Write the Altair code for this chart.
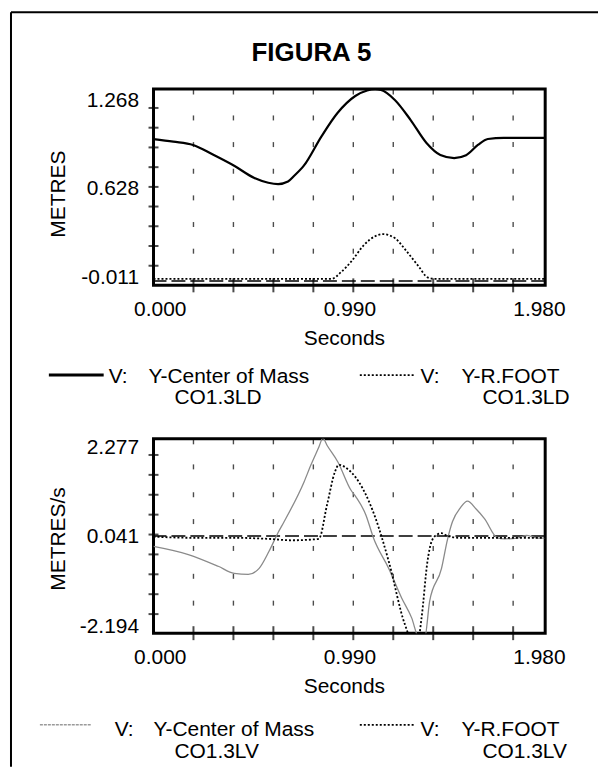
import altair as alt
import pandas as pd

FONT = "Liberation Sans"

# ---------------- data ----------------
# top panel: displacement (METRES)
t_com_pos = [0.00, 0.10, 0.20, 0.30, 0.41, 0.51, 0.58, 0.63, 0.68, 0.71, 0.76, 0.85, 0.93,
             1.02, 1.08, 1.12, 1.15, 1.22, 1.30, 1.38, 1.45, 1.52, 1.58, 1.64, 1.69, 1.77, 1.98]
com_pos = [1.016, 0.995, 0.968, 0.890, 0.797, 0.700, 0.662, 0.651, 0.672, 0.716, 0.800, 1.040, 1.227,
           1.365, 1.410, 1.420, 1.414, 1.333, 1.170, 0.984, 0.887, 0.862, 0.885, 0.968, 1.016, 1.025, 1.025]

t_foot_pos = [0.00, 0.90, 0.95, 1.00, 1.065, 1.12, 1.16, 1.22, 1.28, 1.34, 1.385, 1.42, 1.98]
foot_pos = [-0.117, -0.117, -0.060, 0.024, 0.159, 0.228, 0.245, 0.213, 0.105, -0.016, -0.105, -0.117, -0.117]

# bottom panel: velocity (METRES/s)
t_com_vel = [0.000, 0.176, 0.327, 0.408, 0.479, 0.534, 0.584, 0.630, 0.660, 0.761, 0.796, 0.836,
             0.856, 0.877, 0.932, 0.997, 1.023, 1.073, 1.113, 1.189, 1.255, 1.305, 1.340, 1.370,
             1.396, 1.456, 1.486, 1.511, 1.552, 1.587, 1.632, 1.673, 1.738, 1.773, 1.839, 1.884,
             1.940, 1.980]
com_vel = [-0.29, -0.52, -0.85, -1.05, -1.08, -0.91, -0.43, 0.10, 0.40, 1.52, 2.00, 2.50,
           2.75, 2.55, 2.08, 1.30, 1.10, 0.60, -0.07, -0.91, -1.75, -2.30, -2.85, -2.90,
           -1.83, -0.91, -0.10, 0.40, 0.80, 0.98, 0.75, 0.49, -0.05, -0.08, -0.06, 0.02,
           -0.06, -0.06]

t_foot_vel = [0.00, 0.20, 0.40, 0.58, 0.70, 0.80, 0.836, 0.877, 0.917, 0.937, 0.982, 1.058,
              1.123, 1.189, 1.270, 1.305, 1.340, 1.355, 1.385, 1.406, 1.436, 1.456, 1.486,
              1.55, 1.98]
foot_vel = [-0.02, -0.05, -0.05, -0.08, -0.12, -0.10, -0.08, 0.87, 1.80, 2.00, 1.88, 1.33,
            0.49, -0.71, -2.47, -2.90, -2.85, -2.30, -0.71, -0.15, 0.05, 0.08, 0.00,
            -0.05, -0.05]

ref_top = [-0.135]
ref_bottom = [0.0]

# axes / grid
x_domain = [0.0, 1.98]
x_labels = [0.0, 0.99, 1.98]
x_cols = [0.202, 0.404, 0.606, 0.808, 1.010, 1.212, 1.414, 1.616, 1.818]

top_domain = [-0.170, 1.4215]
top_labels = [-0.011, 0.628, 1.268]
top_ticks = [-0.011, 0.149, 0.309, 0.469, 0.628, 0.788, 0.948, 1.108, 1.268]
top_rows = [1.187, 0.971, 0.755, 0.539, 0.323, 0.107]

bot_domain = [-2.73, 2.73]
bot_labels = [-2.194, 0.041, 2.277]
bot_ticks = [-2.194, -1.635, -1.076, -0.517, 0.041, 0.600, 1.159, 1.718, 2.277]
bot_rows = [1.942, 1.159, 0.405, -0.349, -1.132, -1.886]

title_text = "FIGURA 5"
legend_top = ["V:", "Y-Center of Mass", "CO1.3LD", "V:", "Y-R.FOOT", "CO1.3LD"]
legend_bot = ["V:", "Y-Center of Mass", "CO1.3LV", "V:", "Y-R.FOOT", "CO1.3LV"]

W = 393
FIX_MINUS = "replace(datum.label, '\u2212', '-')"


def txt(s, x, y, size=21, weight="normal", align="left"):
    return alt.Chart(pd.DataFrame({"label": [s]})).mark_text(
        font=FONT, fontSize=size, fontWeight=weight, align=align,
        baseline="alphabetic", color="black"
    ).encode(text="label:N", x=alt.value(x), y=alt.value(y))


def hline(x1, x2, y, **style):
    return alt.Chart(pd.DataFrame({"k": [0]})).mark_rule(**style).encode(
        x=alt.value(x1), x2=alt.value(x2), y=alt.value(y))


def vline(x, y1, y2, **style):
    return alt.Chart(pd.DataFrame({"k": [0]})).mark_rule(**style).encode(
        x=alt.value(x), y=alt.value(y1), y2=alt.value(y2))


def panel(h, ydom, ylabels, yticks, yrows, ytitle, ytitle_y, lab_off, series, leg_styles, ref,
          legend, leg_rows, leg_line_y, left_line_x, left_text_x, extra):
    xenc = alt.X("t:Q", scale=alt.Scale(domain=x_domain, nice=False, zero=False),
                 axis=alt.Axis(values=x_labels, format=".3f", labelExpr=FIX_MINUS,
                               title="Seconds", titleX=191, titleY=59 if h > 196 else 60,
                               titleAlign="center", titleBaseline="alphabetic", titleAngle=0,
                               labelFlush=25, labelFlushOffset=20, labelPadding=13,
                               ticks=False, tickSize=0, domain=False, grid=False,
                               labelOverlap=False, labelFont=FONT, titleFont=FONT,
                               labelFontSize=21, titleFontSize=21, titleFontWeight="normal",
                               labelColor="black", titleColor="black"))
    yenc = alt.Y("v:Q", scale=alt.Scale(domain=ydom, nice=False, zero=False),
                 axis=alt.Axis(values=ylabels, format=".3f", labelExpr=FIX_MINUS,
                               title=ytitle, titleX=-89, titleY=ytitle_y, titleAngle=270,
                               titleAlign="center", titleBaseline="alphabetic",
                               labelFlush=25, labelFlushOffset=20, labelOffset=lab_off,
                               labelPadding=15, ticks=False, tickSize=0, domain=False,
                               grid=False, labelOverlap=False, labelFont=FONT, titleFont=FONT,
                               labelFontSize=21, titleFontSize=21, titleFontWeight="normal",
                               labelColor="black", titleColor="black"))

    layers = []
    # grid marks
    grid_df = pd.DataFrame([{"t": c, "v": r} for c in x_cols for r in yrows])
    layers.append(alt.Chart(grid_df).mark_tick(orient="vertical", size=5, thickness=1.4,
                                               color="black").encode(x=xenc, y=yenc))
    # left axis ticks (crossing frame)
    layers.append(alt.Chart(pd.DataFrame({"t": [0.0] * len(yticks), "v": yticks}))
                  .mark_tick(orient="horizontal", size=10, thickness=2, color="black")
                  .encode(x=xenc, y=yenc))
    # bottom axis ticks
    layers.append(alt.Chart(pd.DataFrame({"t": x_cols, "v": [ydom[0]] * len(x_cols)}))
                  .mark_tick(orient="vertical", size=14, thickness=2, color="black")
                  .encode(x=xenc, y=yenc))
    # small ticks under the top edge
    layers.append(alt.Chart(pd.DataFrame({"t": x_cols, "v": [ydom[1]] * len(x_cols)}))
                  .mark_tick(orient="vertical", size=5, thickness=1.4, yOffset=3, color="black")
                  .encode(x=xenc, y=yenc))
    # reference long-dash line
    layers.append(alt.Chart(pd.DataFrame({"v": ref})).mark_rule(
        color="black", strokeWidth=1.5, strokeDash=[14, 5]).encode(y=yenc))
    # data series
    for ts, vs, style in series:
        layers.append(alt.Chart(pd.DataFrame({"t": ts, "v": vs}))
                      .mark_line(interpolate="monotone", clip=True, **style)
                      .encode(x=xenc, y=yenc))
    # legend
    r1, r2 = leg_rows
    left_style, right_style = leg_styles
    layers.append(hline(left_line_x[0], left_line_x[1], leg_line_y, **left_style))
    layers.append(txt(legend[0], left_text_x[0], r1))
    layers.append(txt(legend[1], left_text_x[1], r1))
    layers.append(txt(legend[2], 21, r2))
    layers.append(hline(207, 263, leg_line_y, **right_style))
    layers.append(txt(legend[3], 268, r1))
    layers.append(txt(legend[4], 309, r1))
    layers.append(txt(legend[5], 330, r2))
    layers += extra
    return alt.layer(*layers).properties(width=W, height=h)


solid = dict(color="black", strokeWidth=2.2)
dotted = dict(color="black", strokeWidth=1.8, strokeDash=[2, 2])
gray = dict(color="#8a8a8a", strokeWidth=1.3)

top_extra = [
    txt(title_text, 158.5, -28, size=26, weight="bold", align="center"),
    hline(-143, 446, -77, color="black", strokeWidth=2),
    vline(-143, -77, 680, color="black", strokeWidth=2),
]

top = panel(197, top_domain, top_labels, top_ticks, top_rows, "METRES", 105, 2,
            [(t_com_pos, com_pos, solid), (t_foot_pos, foot_pos, dotted)],
            (dict(color="black", strokeWidth=3), dotted),
            ref_top, legend_top, (295, 316), 287, (-105, -50), (-45, -5), top_extra)

bottom = panel(195, bot_domain, bot_labels, bot_ticks, bot_rows, "METRES/s", 100, 2,
               [(t_com_vel, com_vel, gray), (t_foot_vel, foot_vel, dotted)],
               (dict(color="#9a9a9a", strokeWidth=1.5, strokeDash=[3, 1]), dotted),
               ref_bottom, legend_bot, (298, 320), 287, (-114, -62), (-39, 0), [])

chart = alt.vconcat(top, bottom, spacing=154, bounds="flush").properties(
    padding=0
).configure(font=FONT).configure_view(stroke="black", strokeWidth=3)

chart.save("out.html", embed_options={"renderer": "svg", "actions": False})
